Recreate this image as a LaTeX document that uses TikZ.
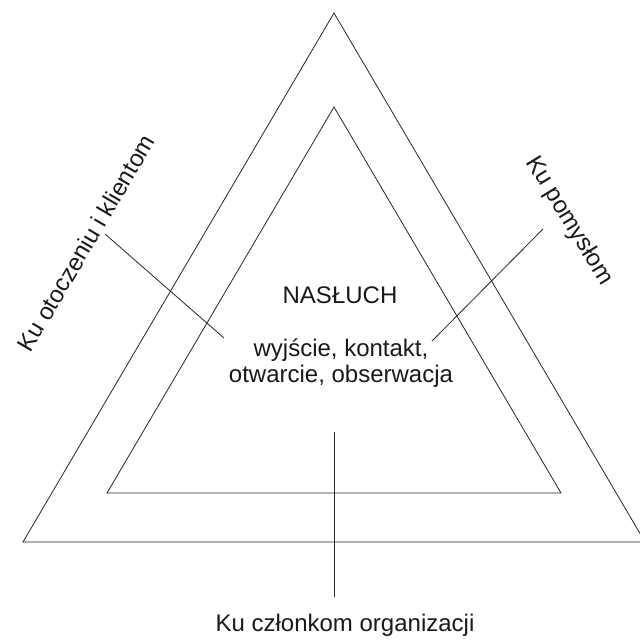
\documentclass[tikz,border=0pt]{standalone}
\usepackage{fontspec}
\setmainfont{Liberation Sans}
\begin{document}
\begin{tikzpicture}[x=1pt,y=-1pt,
  edge/.style={line width=0.8pt,draw=black!85},
  lbl/.style={font=\fontsize{24}{26}\selectfont,text=black!90,inner sep=0pt,align=center}]
\useasboundingbox (0,0) rectangle (640,643);
\clip (0,0) rectangle (640,643);
% triangles
\coordinate (oa) at (334,13);
\coordinate (ol) at (23,542);
\coordinate (or) at (645,542);
\coordinate (ia) at (334,107);
\coordinate (il) at (107,493);
\coordinate (ir) at (561,493);
\draw[edge] (oa) -- (ol) -- (or) -- cycle;
\draw[edge] (ia) -- (il) -- (ir) -- cycle;
% texts
\node[lbl] (title) at (340,295) {NASŁUCH};
\node[lbl] (body) at (341,363) {wyjście, kontakt,\\otwarcie, obserwacja};
\node[lbl,rotate=59.5] (left) at (86,243) {Ku otoczeniu i klientom};
\node[lbl,rotate=-58.5] (right) at (569,221) {Ku pomysłom};
\node[lbl] (bottom) at (345,625) {Ku członkom organizacji};
% connectors
\coordinate (l1) at (105,234);
\coordinate (l2) at (224,338);
\coordinate (r1) at (543,229);
\coordinate (r2) at (432,341);
\coordinate (b1) at (334,432);
\coordinate (b2) at (334,597);
\draw[edge] (l1) -- (l2);
\draw[edge] (r1) -- (r2);
\draw[edge] (b1) -- (b2);
\end{tikzpicture}
\end{document}
